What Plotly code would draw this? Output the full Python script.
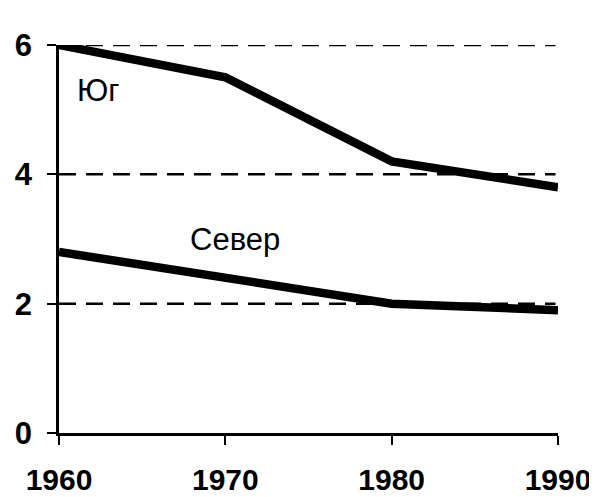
import plotly.graph_objects as go

years = [1960, 1970, 1980, 1990]
south = [6.0, 5.5, 4.2, 3.8]
north = [2.8, 2.4, 2.0, 1.9]
y_ticks = [0, 2, 4, 6]
grid_levels = [2, 4, 6]
south_label = "Юг"
north_label = "Север"

fig = go.Figure()
for vals in (south, north):
    fig.add_trace(go.Scatter(x=years, y=vals, mode="lines",
                             line=dict(color="black", width=8.5),
                             cliponaxis=False, showlegend=False,
                             hoverinfo="skip"))

for lvl in grid_levels:
    fig.add_shape(type="line", xref="x domain", yref="y", x0=0, x1=0.995, y0=lvl, y1=lvl,
                  line=dict(color="black", width=2.5, dash="17px,10px"), layer="below")

fig.add_annotation(x=1962.4, y=5.3, text=south_label, showarrow=False,
                   font=dict(family="Liberation Sans, Arial", size=31, color="black"))
fig.add_annotation(x=1970.6, y=3.0, text=north_label, showarrow=False,
                   font=dict(family="Liberation Sans, Arial", size=31, color="black"))

tickfont_x = dict(family="Liberation Sans, Arial", size=30, color="black", weight="bold")
tickfont_y = dict(family="Liberation Sans, Arial", size=31, color="black", weight="bold")

fig.update_xaxes(range=[1960, 1990], tickvals=years, ticktext=[str(y) for y in years],
                 showgrid=False, zeroline=False, showline=True, linecolor="black",
                 linewidth=2.5, ticks="outside", ticklen=9, tickwidth=2, tickcolor="black",
                 tickfont=tickfont_x, ticklabelstandoff=9, automargin=False)
fig.update_yaxes(range=[0, 6], tickvals=y_ticks, showgrid=False,
                 zeroline=False, showline=True,
                 linecolor="black", linewidth=2.5, ticks="outside", ticklen=9,
                 tickwidth=2, tickcolor="black", tickfont=tickfont_y, ticklabelstandoff=9,
                 automargin=False)

fig.update_layout(width=589, height=489, margin=dict(l=51, r=39, t=37, b=64),
                  plot_bgcolor="white", paper_bgcolor="white")
fig.write_html("out.html")
